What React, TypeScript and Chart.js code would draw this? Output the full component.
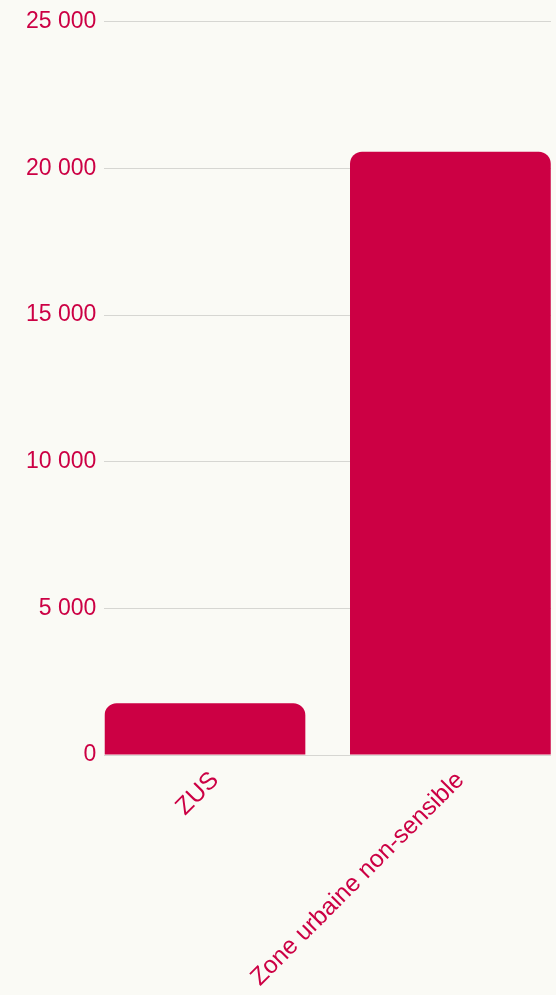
import React, { useEffect, useRef } from "react";
import { Chart, registerables } from "chart.js";

Chart.register(...registerables);

const categories = ["ZUS", "Zone urbaine non-sensible"];
const values = [1770, 20570];
const yTicks = [0, 5000, 10000, 15000, 20000, 25000];

const RED = "#CC0044";
const BG = "#FAFAF5";

// band layout: inner padding between bars, no outer padding
const X_MIN = -0.41;
const X_MAX = categories.length - 1 + 0.41;

export default function App() {
  const ref = useRef<HTMLCanvasElement | null>(null);

  useEffect(() => {
    document.body.style.margin = "0";
    document.body.style.background = BG;
    const ctx = ref.current!;
    const chart = new Chart(ctx, {
      type: "bar",
      data: {
        datasets: [
          {
            data: values.map((v, i) => ({ x: i, y: v })),
            backgroundColor: RED,
            borderRadius: 12,
            borderSkipped: "start",
            barPercentage: 0.818,
            categoryPercentage: 1,
          },
        ],
      },
      options: {
        animation: false,
        responsive: false,
        maintainAspectRatio: false,
        layout: { padding: { top: 8, right: 5, left: 18, bottom: 0 } },
        plugins: { legend: { display: false }, tooltip: { enabled: false } },
        scales: {
          x: {
            type: "linear",
            min: X_MIN,
            max: X_MAX,
            offset: false,
            afterBuildTicks: (axis: any) => {
              axis.ticks = categories.map((_, i) => ({ value: i }));
            },
            grid: { display: false },
            border: { display: false },
            ticks: {
              color: RED,
              autoSkip: false,
              labelOffset: 10,
              font: { family: "Liberation Sans", size: 24.5 },
              maxRotation: 45,
              minRotation: 45,
              callback: (v: any) => categories[Math.round(Number(v))] ?? "",
            },
          },
          y: {
            min: 0,
            max: 25000,
            afterBuildTicks: (axis: any) => {
              axis.ticks = yTicks.map((v) => ({ value: v }));
            },
            grid: { color: "#D6D6D2", drawTicks: false },
            border: { display: false },
            ticks: {
              color: RED,
              padding: 8,
              font: { family: "Liberation Sans", size: 23 },
              callback: (v: any) =>
                Number(v).toString().replace(/\B(?=(\d{3})+(?!\d))/g, " "),
            },
          },
        },
      },
      plugins: [
        {
          id: "bg",
          beforeDraw: (c: any) => {
            const g = c.ctx;
            g.save();
            g.fillStyle = BG;
            g.fillRect(0, 0, c.width, c.height);
            g.restore();
          },
        },
      ],
    });
    return () => chart.destroy();
  }, []);

  return <canvas ref={ref} width={556} height={995} style={{ display: "block" }} />;
}
